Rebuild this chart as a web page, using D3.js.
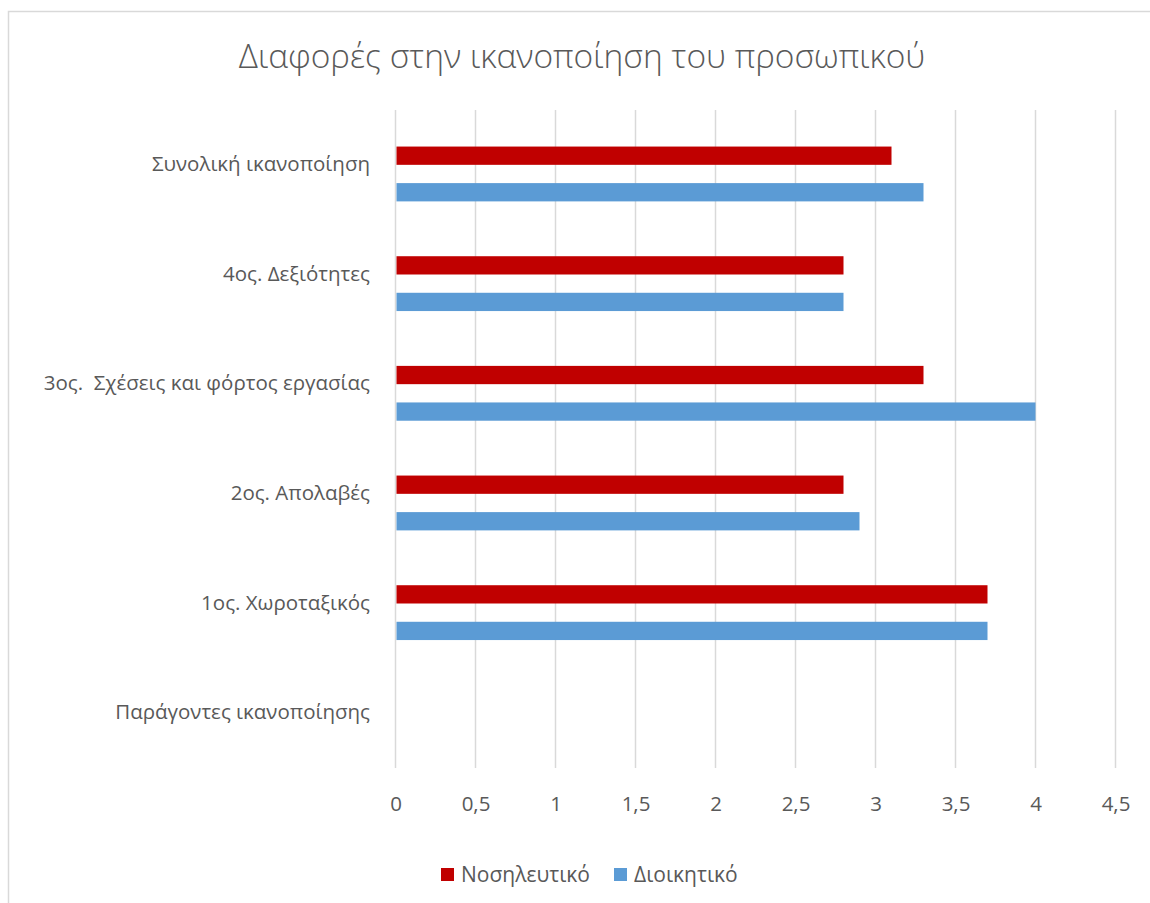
<!DOCTYPE html>
<html>
<head>
<meta charset="utf-8">
<script src="https://cdn.jsdelivr.net/npm/d3@7"></script>
<style>
  html, body { margin: 0; padding: 0; background: #fff; }
  svg { display: block; font-family: "Open Sans", "Noto Sans", sans-serif; }
</style>
</head>
<body>
<svg id="chart" width="1150" height="903"></svg>
<script>
const title = "Διαφορές στην ικανοποίηση του προσωπικού";
// categories top to bottom
const categories = [
  "Συνολική ικανοποίηση",
  "4ος. Δεξιότητες",
  "3ος.  Σχέσεις και φόρτος εργασίας",
  "2ος. Απολαβές",
  "1ος. Χωροταξικός",
  "Παράγοντες ικανοποίησης"
];
const seriesNames = ["Νοσηλευτικό", "Διοικητικό"];
const seriesColors = ["#C00000", "#5B9BD5"];
const nosileftiko = [3.1, 2.8, 3.3, 2.8, 3.7, null];
const dioikitiko  = [3.3, 2.8, 4.0, 2.9, 3.7, null];
const xTicks = [0, 0.5, 1, 1.5, 2, 2.5, 3, 3.5, 4, 4.5];

const seriesValues = [nosileftiko, dioikitiko];
const svg = d3.select("#chart");
const textColor = "#595959";
const gridColor = "#d9d9d9";

// chart frame (partially cropped)
svg.append("path")
  .attr("d", "M8.5,903 L8.5,11.5 L1150,11.5")
  .attr("fill", "none").attr("stroke", gridColor).attr("stroke-width", 1.5);

const plot = { left: 395.5, right: 1115.5, top: 110, bottom: 768 };

const x = d3.scaleLinear().domain([0, 4.5]).range([plot.left, plot.right]);
const y = d3.scaleBand().domain(categories).range([plot.top, plot.bottom]);
// inner slots: an empty slot first, then the two series
const inner = d3.scaleBand().domain(["_"].concat(seriesNames))
  .range([0, y.bandwidth()]).paddingInner(0.5).paddingOuter(0.25).align(0);

// title
svg.append("text")
  .attr("x", 582).attr("y", 68)
  .attr("text-anchor", "middle")
  .attr("font-size", 33.5).attr("font-weight", 300)
  .attr("fill", textColor)
  .text(title);

// gridlines
svg.append("g").selectAll("line").data(xTicks).join("line")
  .attr("x1", d => x(d)).attr("x2", d => x(d))
  .attr("y1", plot.top).attr("y2", plot.bottom)
  .attr("stroke", gridColor).attr("stroke-width", 1.5);

// bars
seriesNames.forEach((name, si) => {
  svg.append("g").selectAll("rect")
    .data(categories.map((c, i) => ({ c, v: seriesValues[si][i] })).filter(d => d.v != null))
    .join("rect")
    .attr("x", x(0) + 1)
    .attr("y", d => y(d.c) + inner(name))
    .attr("width", d => x(d.v) - x(0) - 1)
    .attr("height", inner.bandwidth())
    .attr("fill", seriesColors[si]);
});

// x axis labels
const xAxis = d3.axisBottom(x).tickValues(xTicks)
  .tickFormat(d => String(d).replace(".", ",")).tickSize(0).tickPadding(0);
const gx = svg.append("g").attr("transform", `translate(0, 796)`).call(xAxis);
gx.select(".domain").remove();
gx.selectAll("text").attr("font-size", 20.5).attr("fill", textColor)
  .attr("font-family", "'Open Sans', sans-serif");

// y axis labels
const yAxis = d3.axisLeft(y).tickSize(0).tickPadding(0);
const gy = svg.append("g").attr("transform", `translate(370, 0)`).call(yAxis);
gy.select(".domain").remove();
gy.selectAll("text").attr("font-size", 20.5).attr("fill", textColor)
  .attr("font-family", "'Open Sans', sans-serif")
  .attr("dy", "0.3em")
  .style("white-space", "pre");

// legend
const legendItems = [
  { name: seriesNames[0], color: seriesColors[0], x: 441 },
  { name: seriesNames[1], color: seriesColors[1], x: 614 }
];
const lg = svg.append("g");
legendItems.forEach(it => {
  lg.append("rect").attr("x", it.x).attr("y", 868).attr("width", 13).attr("height", 13).attr("fill", it.color);
  lg.append("text").attr("x", it.x + 20).attr("y", 882)
    .attr("font-size", 21).attr("fill", textColor).text(it.name);
});
</script>
</body>
</html>
